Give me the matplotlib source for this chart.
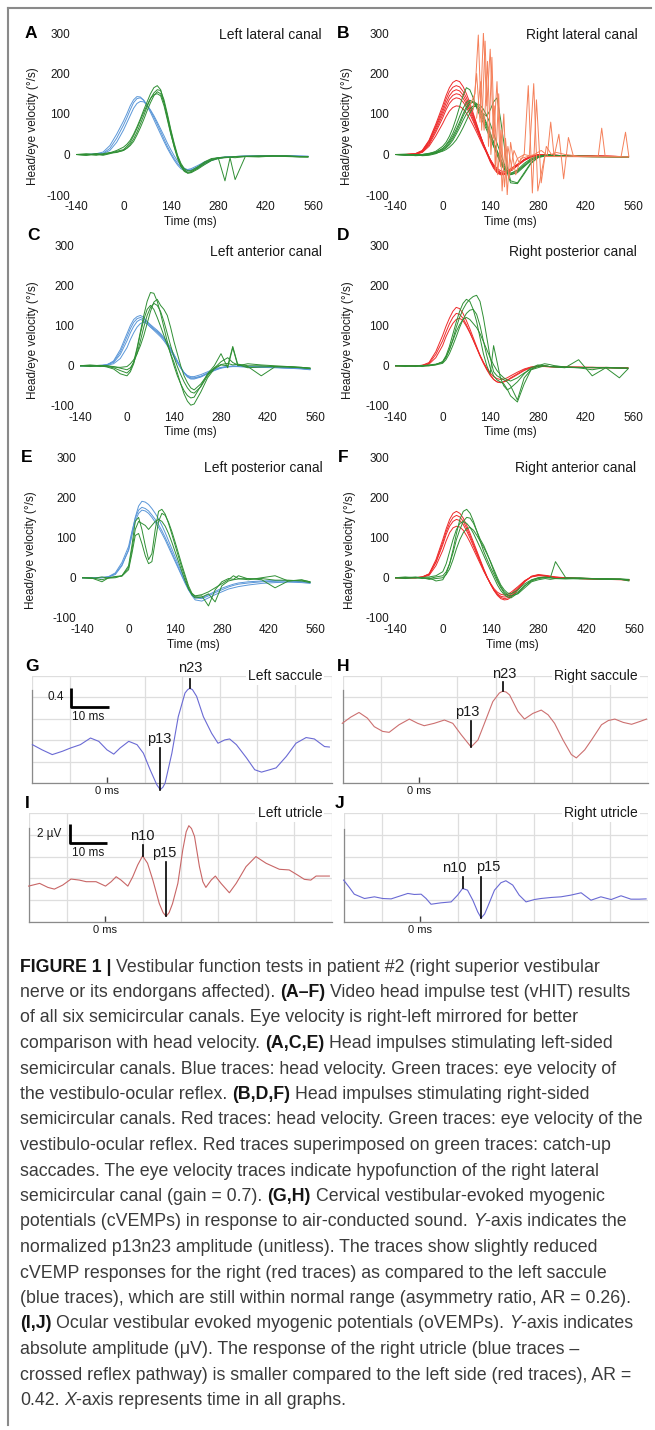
import re

import matplotlib
matplotlib.use("Agg")
import matplotlib.pyplot as plt
from matplotlib.lines import Line2D
import numpy as np

W, H = 655, 1430
plt.rcParams["font.family"] = ["Liberation Sans", "DejaVu Sans"]
plt.rcParams["axes.unicode_minus"] = False

# ---------------- vHIT data (ms, deg/s) ----------------
T_VHIT = [-140, -110, -80, -60, -40, -20,
          0, 10, 20, 30, 40, 50, 60, 70, 80, 90, 100, 110, 120, 130, 140, 150, 160, 170, 180, 190, 200,
          220, 240, 260, 280, 300,
          315, 330, 360,
          400, 440, 480, 520, 545]
TIME_TICKS = [-140, 0, 140, 280, 420, 560]
VEL_TICKS = [-100, 0, 100, 200, 300]

A_HEAD = [
    [0, 0, 1, 3, 15, 40, 72, 90, 110, 128, 138, 140, 134, 122, 108, 92, 75, 57, 38, 20, 4, -10, -22, -31, -36, -37, -35, -27, -18, -12, -8, -6, -5, -5, -4, -4, -3, -3, -4, -5],
    [0, 0, 2, 6, 22, 50, 82, 100, 120, 135, 143, 142, 134, 120, 104, 86, 68, 50, 32, 15, 0, -14, -26, -35, -40, -41, -38, -30, -21, -14, -9, -7, -6, -5, -4, -3, -3, -3, -4, -5],
    [0, 0, 0, 2, 10, 30, 60, 78, 96, 114, 126, 131, 130, 122, 110, 96, 80, 63, 46, 28, 12, -3, -16, -27, -34, -38, -38, -32, -24, -15, -10, -7, -6, -5, -4, -4, -3, -3, -4, -4],
]
A_EYE = [
    [0, -2, 2, 0, 4, 10, 18, 25, 35, 50, 68, 88, 110, 130, 150, 165, 170, 160, 128, 90, 52, 18, -10, -30, -42, -46, -44, -32, -20, -12, -8, -6, -7, -8, -5, -6, -4, -3, -5, -6],
    [0, 2, 0, -2, 2, 8, 12, 20, 30, 46, 64, 84, 104, 122, 138, 148, 150, 145, 120, 85, 50, 20, -5, -25, -38, -44, -42, -34, -22, -14, -9, -7, -6, -5, -4, -3, -3, -4, -5, -5],
    [0, 0, -2, 2, 5, 6, 10, 16, 25, 38, 55, 75, 96, 118, 138, 152, 160, 158, 135, 100, 62, 28, -2, -22, -35, -40, -40, -30, -18, -10, -8, -65, -8, -62, -5, -5, -4, -4, -6, -6],
    [0, -2, 2, 0, 3, 5, 10, 15, 22, 32, 48, 66, 86, 108, 128, 145, 155, 150, 128, 95, 58, 24, -6, -28, -40, -46, -45, -36, -25, -15, -10, -8, -7, -6, -5, -5, -4, -5, -6, -6],
]

B_HEAD = [
    [0, 0, 2, 10, 35, 75, 120, 145, 165, 178, 183, 180, 168, 150, 128, 102, 76, 50, 25, 2, -18, -34, -45, -50, -50, -46, -40, -26, -12, -4, 0, 0, -1, -2, -3, -4, -4, -5, -5, -6],
    [0, 0, 1, 8, 30, 66, 105, 127, 145, 156, 160, 157, 147, 132, 113, 92, 70, 48, 27, 7, -12, -28, -40, -47, -48, -45, -40, -28, -15, -6, -1, 0, -1, -2, -3, -3, -4, -4, -5, -5],
    [0, 0, 1, 6, 24, 55, 90, 110, 126, 136, 140, 138, 130, 117, 100, 82, 62, 42, 22, 4, -14, -28, -38, -44, -46, -44, -38, -26, -14, -6, -2, -1, -1, -2, -3, -4, -4, -5, -5, -6],
    [0, 0, 0, 5, 20, 46, 76, 93, 107, 116, 120, 119, 113, 102, 88, 72, 55, 37, 19, 3, -12, -25, -34, -40, -42, -40, -35, -24, -13, -6, -2, -1, -2, -2, -3, -3, -4, -4, -5, -5],
    [0, 0, 2, 9, 33, 70, 112, 136, 155, 166, 170, 167, 156, 140, 120, 97, 73, 49, 26, 5, -15, -31, -43, -48, -49, -46, -40, -27, -13, -5, -1, 0, -1, -2, -3, -4, -4, -5, -5, -6],
    [0, 0, 1, 7, 27, 60, 98, 118, 136, 146, 150, 148, 139, 125, 107, 87, 66, 45, 25, 6, -13, -28, -39, -45, -47, -44, -39, -27, -14, -6, -2, -1, -1, -2, -3, -3, -4, -4, -5, -5],
]
B_EYE = [
    [0, -2, 0, -2, 0, 5, 15, 22, 32, 45, 62, 80, 100, 118, 130, 128, 118, 102, 85, 66, 45, 22, 0, -20, -36, -45, -48, -38, -22, -10, -4, -2, -2, -3, -4, -4, -4, -5, -5, -6],
    [0, 0, -2, 0, 2, 8, 20, 30, 45, 65, 90, 118, 145, 165, 160, 140, 115, 95, 78, 60, 40, 20, 0, -18, -34, -44, -50, -42, -28, -15, -6, -3, -3, -4, -4, -5, -5, -5, -6, -6],
    [0, -2, 0, -3, -2, 2, 10, 16, 24, 35, 50, 66, 84, 100, 112, 120, 118, 110, 100, 95, 110, 130, 140, 90, 30, -30, -65, -70, -45, -20, -8, -4, -3, -4, -5, -5, -6, -5, -6, -7],
    [0, 0, -3, -2, 0, 3, 8, 12, 18, 26, 36, 50, 66, 84, 102, 116, 124, 122, 112, 96, 76, 52, 28, 4, -20, -45, -70, -72, -48, -22, -8, -2, 0, -2, -4, -4, -5, -6, -6, -7],
    [0, -1, -2, 0, 1, 4, 12, 18, 28, 40, 56, 74, 94, 112, 125, 130, 126, 114, 96, 76, 54, 30, 8, -14, -32, -44, -50, -45, -30, -15, -6, -3, -3, -3, -4, -5, -5, -5, -6, -6],
    [0, 1, -1, 0, 3, 6, 14, 24, 36, 52, 72, 94, 114, 128, 134, 130, 120, 106, 90, 72, 52, 30, 10, -10, -28, -40, -46, -40, -26, -12, -5, -2, -3, -4, -4, -4, -5, -6, -6, -6],
]
# catch-up saccades (right lateral canal)
B_SAC_T = [
    [80, 95, 105, 115, 125, 135, 145, 155, 165, 175, 185, 195, 210, 225, 240, 252, 264, 276, 290, 305, 320, 335, 360, 400, 440, 458, 468, 478, 525, 538, 548],
    [90, 100, 110, 120, 130, 140, 150, 160, 170, 180, 190, 200, 215, 230, 250, 270, 290, 308, 318, 328, 342, 356, 370, 385, 420, 545],
    [100, 112, 122, 132, 142, 152, 162, 172, 182, 192, 205, 220, 240, 255, 268, 280, 300, 545],
]
B_SAC_V = [
    [120, 150, 295, 60, 280, 20, 240, -40, 150, -90, 40, -60, 10, -20, 0, 170, -95, 135, -70, 20, 0, 5, 0, -4, -4, -3, 65, -4, -5, 55, -6],
    [110, 200, 80, 300, 120, 260, 40, 180, -30, 100, -100, 30, -50, -10, -5, 0, 10, -2, 80, -5, 50, -60, 42, -5, -5, -6],
    [90, 180, 60, 230, 0, 120, -50, 60, -80, 20, -40, -10, 0, -3, 175, -90, -5, -6],
]

C_HEAD = [
    [0, 0, 0, 2, 12, 40, 80, 100, 115, 122, 125, 120, 110, 102, 95, 88, 80, 70, 58, 44, 28, 12, -4, -18, -28, -33, -33, -28, -20, -12, -6, -3, -2, -2, -3, -4, -5, -6, -8, -10],
    [0, 0, 1, 3, 8, 28, 62, 82, 98, 110, 115, 112, 104, 96, 90, 84, 76, 66, 54, 40, 25, 10, -5, -18, -26, -30, -30, -26, -18, -10, -5, -2, -1, -1, -2, -3, -4, -5, -7, -9],
    [0, 0, 0, 1, 5, 18, 45, 65, 82, 96, 105, 108, 104, 96, 88, 80, 72, 62, 50, 37, 22, 8, -6, -17, -24, -27, -27, -22, -15, -8, -4, -2, -1, -1, -2, -3, -4, -5, -6, -8],
    [0, 0, 0, 2, 10, 34, 72, 92, 108, 117, 120, 116, 108, 100, 92, 85, 77, 67, 55, 42, 27, 11, -4, -17, -26, -31, -31, -27, -19, -11, -5, -2, -2, -2, -3, -3, -4, -6, -7, -9],
]
C_EYE = [
    [0, 2, 0, -2, -5, -12, -18, -10, 10, 45, 85, 125, 160, 182, 180, 160, 130, 95, 60, 28, 0, -25, -45, -62, -74, -80, -78, -50, -20, 0, 30, -5, 45, 0, 5, 2, 0, -2, -4, -6],
    [0, 0, -2, 0, -2, -6, -10, -5, 8, 30, 62, 96, 125, 145, 155, 150, 135, 110, 80, 50, 22, -2, -22, -40, -55, -65, -68, -52, -25, -5, 3, 6, 2, 4, 0, 0, -2, -3, -5, -6],
    [0, -2, 0, -3, -8, -20, -25, -15, 5, 40, 80, 115, 140, 150, 140, 120, 98, 75, 52, 30, 8, -18, -45, -70, -88, -98, -95, -65, -30, -8, 2, 0, 48, 3, -5, -3, -2, -3, -5, -7],
    [0, 0, 1, 0, -3, -4, -2, 5, 15, 30, 50, 75, 105, 135, 158, 165, 150, 140, 125, 95, 60, 30, 0, -25, -42, -55, -60, -45, -22, -6, 10, 20, 8, 2, -2, -25, -3, -2, -4, -6],
]

D_HEAD = [
    [0, 0, 0, 1, 8, 35, 75, 98, 118, 135, 145, 142, 130, 112, 92, 70, 48, 26, 8, -8, -22, -34, -40, -42, -40, -36, -32, -22, -12, -5, -2, -2, -3, -3, -4, -4, -5, -5, -6, -6],
    [0, 0, 0, 1, 6, 28, 62, 84, 104, 120, 130, 128, 118, 102, 84, 64, 44, 24, 6, -10, -24, -34, -40, -42, -40, -36, -30, -20, -10, -4, -1, -1, -2, -3, -3, -4, -4, -5, -5, -6],
    [0, 0, 0, 0, 4, 20, 50, 72, 90, 105, 115, 118, 112, 98, 82, 64, 45, 26, 9, -6, -18, -27, -32, -34, -33, -30, -25, -16, -8, -3, -1, -1, -2, -2, -3, -3, -4, -4, -5, -5],
]
D_EYE = [
    [0, 0, -2, 0, 2, 4, 8, 20, 40, 65, 95, 120, 140, 155, 165, 172, 175, 160, 120, 70, 20, -15, -25, -30, -35, -40, -50, -85, -30, -10, -5, 0, -2, -3, -5, 15, -25, -5, -30, -8],
    [0, -2, 0, 1, 0, 3, 10, 25, 48, 78, 108, 135, 155, 165, 160, 140, 110, 70, 30, 0, -20, 50, 10, -30, -50, -60, -55, -40, -20, -5, 2, 0, -2, -1, -3, -4, -5, -5, -6, -6],
    [0, 0, 0, -2, 0, 2, 6, 15, 30, 50, 72, 95, 115, 130, 138, 140, 128, 100, 62, 25, -5, -25, -35, -40, -45, -58, -75, -90, -45, -10, 0, 5, 3, 0, -3, -5, -10, -4, -5, -6],
    [0, 0, -1, 0, 1, 3, 10, 22, 40, 62, 85, 102, 115, 120, 115, 105, 95, 80, 60, 40, 20, 2, -12, -22, -30, -35, -38, -30, -18, -8, -2, 0, -2, -3, -4, -5, -4, -5, -6, -6],
]

E_HEAD = [
    [0, 0, 0, 2, 8, 30, 70, 110, 150, 178, 190, 188, 182, 172, 160, 146, 130, 112, 92, 72, 52, 32, 12, -8, -28, -44, -55, -58, -50, -42, -35, -28, -25, -22, -18, -14, -12, -11, -12, -14],
    [0, 0, 0, 3, 12, 38, 78, 115, 148, 168, 175, 172, 166, 156, 145, 132, 117, 100, 82, 63, 44, 25, 6, -12, -30, -43, -50, -52, -45, -37, -30, -23, -19, -16, -13, -10, -9, -8, -10, -12],
    [0, 0, 1, 2, 10, 32, 68, 105, 140, 160, 168, 166, 160, 150, 138, 125, 110, 94, 76, 58, 40, 22, 4, -14, -30, -42, -48, -50, -42, -34, -26, -20, -16, -13, -10, -8, -7, -8, -10, -12],
]
E_EYE = [
    [0, -2, 2, -1, 0, 5, 30, 80, 140, 150, 120, 80, 45, 60, 120, 165, 170, 158, 135, 108, 80, 52, 25, 0, -25, -42, -50, -48, -40, -60, -20, -8, -5, -3, -2, -5, -25, -8, -5, -10],
    [0, 0, -5, 0, 2, 4, 20, 60, 105, 110, 85, 55, 35, 40, 90, 140, 160, 155, 138, 115, 88, 60, 32, 6, -20, -38, -46, -45, -70, -30, -10, -2, -4, 5, -3, -2, -6, -6, -8, -12],
    [0, -1, -10, 0, 3, 5, 25, 70, 120, 140, 135, 130, 120, 130, 140, 145, 140, 128, 110, 88, 64, 40, 16, -8, -28, -40, -45, -42, -35, -25, -15, -5, 5, -2, -5, 0, 5, -8, -6, -10],
]

F_HEAD = [
    [0, 0, 0, 2, 10, 45, 95, 122, 145, 160, 165, 160, 148, 130, 110, 88, 66, 44, 22, 2, -16, -32, -44, -52, -55, -54, -48, -30, -10, 4, 8, 6, 4, 2, 0, -2, -3, -4, -5, -6],
    [0, 0, 0, 2, 8, 38, 82, 108, 128, 140, 145, 142, 132, 116, 98, 78, 58, 38, 18, 0, -16, -30, -40, -46, -48, -46, -40, -25, -8, 3, 6, 5, 3, 1, 0, -2, -3, -3, -4, -5],
    [0, 0, 0, 1, 6, 30, 68, 92, 112, 124, 128, 126, 118, 104, 88, 70, 52, 34, 16, 0, -14, -27, -36, -41, -43, -41, -36, -22, -7, 2, 5, 4, 2, 1, 0, -1, -2, -3, -4, -5],
    [0, 0, 0, 2, 9, 40, 88, 115, 136, 150, 155, 151, 140, 123, 104, 83, 62, 41, 20, 1, -16, -31, -42, -49, -52, -50, -44, -28, -9, 3, 7, 5, 3, 1, 0, -2, -3, -4, -4, -6],
]
F_EYE = [
    [0, 2, 0, -2, 0, -8, -5, 10, 35, 70, 110, 145, 165, 170, 160, 140, 115, 90, 65, 45, 25, 8, -10, -25, -38, -45, -46, -35, -20, -8, -2, 0, 0, 40, 0, 0, -2, -3, -4, -6],
    [0, -2, 0, 0, -2, 2, 5, 15, 35, 62, 95, 120, 140, 150, 148, 135, 115, 95, 80, 60, 38, 15, -5, -22, -35, -42, -45, -40, -25, -10, -5, -2, -4, -2, -3, -1, -3, -4, -4, -8],
    [0, 0, 2, 0, -4, -2, 0, 8, 22, 45, 72, 95, 112, 122, 125, 118, 105, 90, 75, 58, 40, 20, 0, -18, -30, -38, -40, -30, -15, -5, 0, 2, 0, -2, -2, -3, -2, -4, -3, -5],
    [0, 0, 0, 1, 2, 5, 15, 35, 65, 95, 120, 135, 140, 135, 125, 110, 92, 74, 55, 36, 18, 0, -18, -32, -42, -48, -50, -38, -20, -6, 0, 1, 0, -2, -1, -2, -3, -2, -3, -4],
]

# ---------------- VEMP data (ms, amplitude) ----------------
G_T = [-19.9, -17.3, -14.6, -11.9, -9.7, -7.1, -4.4, -2.2, 0.0, 1.8, 3.5, 5.8, 8.0, 9.7, 11.5, 13.3, 14.2, 14.9, 15.5, 17.3, 19.0,
       20.8, 21.5, 22.1, 22.8, 23.9, 25.7, 27.9, 29.6, 31.4, 32.7, 34.5, 37.2, 39.4, 41.2, 43.4, 45.1, 47.8, 50.4, 53.1, 55.3, 58.0, 59.3]
G_V = [0.81, 0.70, 0.60, 0.67, 0.74, 0.81, 0.95, 0.88, 0.70, 0.61, 0.74, 0.88, 0.81, 0.63, 0.28, -0.04, -0.14, -0.09, 0.0, 0.63, 1.40,
       1.90, 1.97, 2.00, 1.97, 1.83, 1.40, 1.05, 0.84, 0.91, 0.93, 0.81, 0.53, 0.28, 0.23, 0.28, 0.32, 0.56, 0.84, 0.96, 0.93, 0.77, 0.76]
H_T = [-20.2, -18.0, -15.8, -13.6, -11.8, -9.6, -7.9, -5.3, -2.6, -0.4, 1.3, 3.9, 6.6, 8.8, 11.0, 13.6, 15.4, 17.1, 19.3, 21.0, 21.9,
       22.8, 23.7, 25.9, 27.6, 29.8, 32.0, 33.8, 35.5, 37.7, 39.9, 41.2, 43.4, 45.2, 47.8, 49.6, 51.3, 53.5, 55.7, 57.9, 59.6]
H_V = [1.26, 1.39, 1.49, 1.37, 1.19, 1.09, 1.07, 1.23, 1.35, 1.26, 1.21, 1.26, 1.33, 1.26, 1.02, 0.76, 0.91, 1.26, 1.72, 1.90, 1.94,
       1.92, 1.86, 1.51, 1.35, 1.47, 1.54, 1.44, 1.26, 0.91, 0.60, 0.53, 0.70, 0.91, 1.23, 1.32, 1.35, 1.28, 1.24, 1.30, 1.35]
I_T = [-20.1, -17.2, -15.0, -13.3, -11.1, -8.9, -6.7, -4.9, -2.3, 0.2, 1.7, 3.0, 4.3, 6.1, 7.4, 8.7, 10.0, 11.3, 12.7, 14.4,
       15.4, 16.2, 17.0, 17.9, 19.3, 20.6, 21.5, 22.2, 22.9, 23.7, 25.0, 25.9, 26.7, 28.1, 29.2, 30.7, 32.9, 34.7, 37.3, 39.9,
       42.6, 46.1, 48.7, 50.9, 52.7, 54.4, 55.8, 59.3]
I_V = [3.82, 4.11, 3.68, 3.50, 3.93, 4.57, 4.46, 4.29, 4.29, 3.82, 4.29, 4.82, 4.46, 3.82, 4.82, 6.07, 7.04, 6.25, 4.46, 1.96,
       1.00, 0.61, 1.00, 1.96, 4.11, 7.68, 9.60, 10.25, 9.95, 9.11, 5.89, 4.29, 3.68, 4.46, 4.89, 4.11, 3.11, 4.11, 5.89, 6.96,
       6.25, 5.61, 5.54, 5.00, 4.54, 4.46, 4.89, 4.89]
J_T = [-20.1, -18.6, -17.3, -14.6, -12.0, -9.8, -7.6, -5.4, -3.2, -1.5, 0.3, 1.6, 2.9, 5.5, 8.2, 9.9, 11.2, 12.5, 13.9, 15.2,
       16.1, 17.0, 17.8, 19.6, 21.3, 22.6, 24.4, 26.1, 27.9, 30.1, 31.8, 34.5, 37.1, 39.7, 42.4, 45.0, 47.6, 50.3, 52.9, 55.5,
       57.7, 59.5]
J_V = [4.46, 3.68, 2.96, 2.50, 2.68, 2.50, 2.46, 2.75, 3.04, 2.93, 2.96, 2.50, 1.89, 2.04, 2.14, 2.86, 3.57, 3.39, 2.32, 1.07,
       0.43, 0.85, 1.61, 3.39, 4.18, 4.39, 3.93, 2.86, 2.14, 2.39, 2.50, 2.61, 2.68, 2.86, 3.11, 2.32, 2.68, 2.39, 2.79, 2.43,
       2.43, 2.46]

# peak markers: label, latency, trace value, line top, label x, label y
G_MARKS = [("n23", 22.1, 2.00, 2.19, 22.3, 2.42), ("p13", 14.2, -0.14, 0.74, 14.0, 0.93)]
H_MARKS = [("n23", 21.9, 1.94, 2.13, 22.2, 2.30), ("p13", 13.6, 0.76, 1.30, 12.5, 1.50)]
I_MARKS = [("n10", 10.0, 7.04, 8.20, 10.0, 9.20), ("p15", 16.2, 0.61, 6.43, 15.7, 7.32)]
J_MARKS = [("n10", 11.2, 3.57, 4.82, 9.0, 5.71), ("p15", 16.1, 0.43, 4.82, 18.0, 5.90)]

CAPTION = [
    "**FIGURE 1 |** Vestibular function tests in patient #2 (right superior vestibular",
    "nerve or its endorgans affected). **(A–F)** Video head impulse test (vHIT) results",
    "of all six semicircular canals. Eye velocity is right-left mirrored for better",
    "comparison with head velocity. **(A,C,E)** Head impulses stimulating left-sided",
    "semicircular canals. Blue traces: head velocity. Green traces: eye velocity of",
    "the vestibulo-ocular reflex. **(B,D,F)** Head impulses stimulating right-sided",
    "semicircular canals. Red traces: head velocity. Green traces: eye velocity of the",
    "vestibulo-ocular reflex. Red traces superimposed on green traces: catch-up",
    "saccades. The eye velocity traces indicate hypofunction of the right lateral",
    "semicircular canal (gain = 0.7). **(G,H)** Cervical vestibular-evoked myogenic",
    "potentials (cVEMPs) in response to air-conducted sound. *Y*-axis indicates the",
    "normalized p13n23 amplitude (unitless). The traces show slightly reduced",
    "cVEMP responses for the right (red traces) as compared to the left saccule",
    "(blue traces), which are still within normal range (asymmetry ratio, AR = 0.26).",
    "**(I,J)** Ocular vestibular evoked myogenic potentials (oVEMPs). *Y*-axis indicates",
    "absolute amplitude (μV). The response of the right utricle (blue traces –",
    "crossed reflex pathway) is smaller compared to the left side (red traces), AR =",
    "0.42. *X*-axis represents time in all graphs.",
]

BLUE = "#5b97d8"
RED = "#ee2a2a"
GREEN = "#2f8f34"
ORANGE = "#f5805a"
TXT = "#1a1a1a"

for group in (A_HEAD, A_EYE, B_HEAD, B_EYE, C_HEAD, C_EYE, D_HEAD, D_EYE, E_HEAD, E_EYE, F_HEAD, F_EYE):
    for tr in group:
        assert len(tr) == len(T_VHIT), len(tr)


def box(x0, y0, x1, y1):
    return [x0 / W, 1 - y1 / H, (x1 - x0) / W, (y1 - y0) / H]


def ftext(fig, x, y, s, **kw):
    return fig.text(x / W, 1 - y / H, s, **kw)


def vhit_panel(fig, rect, letter, letter_xy, title, title_xy, ylab_xy, xlab_xy, head, eye, head_color, sac=None):
    ax = fig.add_axes(box(*rect))
    ax.patch.set_alpha(0)
    for tr in head:
        ax.plot(T_VHIT, tr, color=head_color, lw=0.7)
    for tr in eye:
        ax.plot(T_VHIT, tr, color=GREEN, lw=0.7)
    if sac:
        for t, v in zip(*sac):
            ax.plot(t, v, color=ORANGE, lw=0.7)
    ax.set_xlim(-140, 560)
    ax.set_ylim(-100, 300)
    ax.set_xticks(TIME_TICKS)
    ax.set_yticks(VEL_TICKS)
    for s in ax.spines.values():
        s.set_visible(False)
    ax.tick_params(length=0, labelsize=8.5, labelcolor=TXT)
    ax.tick_params(axis="x", pad=4.5)
    ax.tick_params(axis="y", pad=4.3)
    ftext(fig, *letter_xy, letter, fontsize=12.5, fontweight="bold", ha="center", va="center", color="k")
    ftext(fig, *title_xy, title, fontsize=10, ha="right", va="center", color=TXT)
    ftext(fig, *ylab_xy, "Head/eye velocity (°/s)", fontsize=8.5, rotation=90, ha="center", va="center", color=TXT)
    ftext(fig, *xlab_xy, "Time (ms)", fontsize=8.5, ha="center", va="center", color=TXT)
    return ax


def vemp_panel(fig, rect, letter, letter_xy, title, t, v, color, top, spine_top, marks):
    ax = fig.add_axes(box(*rect))
    ax.set_xlim(-20, 60)
    ax.set_ylim(0, top)
    ax.set_xticks(np.arange(-20, 61, 10), minor=True)
    ax.set_yticks(np.linspace(0, top, 6), minor=True)
    ax.set_yticks([])
    ax.set_xticks([0])
    ax.set_xticklabels(["0 ms"])
    ax.grid(which="minor", color="#dedede", lw=0.9)
    ax.set_axisbelow(True)
    ax.tick_params(axis="x", which="major", direction="in", length=4, width=1, color="#444444",
                   labelsize=8, pad=2.5, labelcolor=TXT)
    ax.tick_params(which="minor", length=0)
    for side in ("top", "right"):
        ax.spines[side].set_visible(False)
    ax.spines["left"].set_bounds(0, spine_top)
    for side in ("left", "bottom"):
        ax.spines[side].set_color("#8a8a8a")
        ax.spines[side].set_linewidth(0.9)
    ax.plot(t, v, color=color, lw=0.8, clip_on=False, zorder=3)
    for name, lat, val, ltop, tx, ty in marks:
        ax.plot([lat, lat], [val, ltop], color="k", lw=1.2, clip_on=False, zorder=4)
        ax.text(tx, ty, name, fontsize=10.5, ha="center", va="center", color=TXT, zorder=5)
    ax.text(57.4, top, title, fontsize=10, ha="right", va="center", color=TXT, zorder=6,
            bbox=dict(facecolor="white", edgecolor="none", pad=1.5))
    ftext(fig, *letter_xy, letter, fontsize=12.5, fontweight="bold", ha="center", va="center", color="k")
    return ax


def scale_bar(ax, x0, y0, dy, ylabel, ylab_xy, xlab_xy):
    ax.plot([x0, x0, x0 + 10], [y0 + dy, y0, y0], color="k", lw=2, solid_capstyle="butt", zorder=5)
    ax.text(*ylab_xy, ylabel, fontsize=8.5, ha="center", va="center", color=TXT)
    ax.text(*xlab_xy, "10 ms", fontsize=8.5, ha="center", va="center", color=TXT)


def draw_caption(fig):
    renderer = fig.canvas.get_renderer()
    family = "Liberation Sans"
    probe = fig.text(0, 0, "", fontsize=10, family=family)
    widest = 0
    for line in CAPTION:
        probe.set_text(line.replace("*", ""))
        widest = max(widest, probe.get_window_extent(renderer).width)
    size = 10 * 626 / widest
    probe.set_text("a a")
    w1 = probe.get_window_extent(renderer).width
    probe.set_text("aa")
    w2 = probe.get_window_extent(renderer).width
    space = (w1 - w2) * size / 10
    probe.remove()

    y = 971.5
    for line in CAPTION:
        x = 20
        for piece in re.split(r"(\*\*.+?\*\*|\*.+?\*)", line):
            if not piece:
                continue
            weight, style, color = "normal", "normal", "#3b3b3b"
            if piece.startswith("**"):
                piece, weight, color = piece[2:-2], "bold", "#151515"
            elif piece.startswith("*"):
                piece, style = piece[1:-1], "italic"
            x += (len(piece) - len(piece.lstrip(" "))) * space
            core = piece.strip(" ")
            if core:
                t = ftext(fig, x, y, core, fontsize=size, fontweight=weight, fontstyle=style,
                          family=family, color=color, ha="left", va="baseline")
                x += t.get_window_extent(renderer).width
            x += (len(piece) - len(piece.rstrip(" "))) * space
        y += 25.5


def main():
    fig = plt.figure(figsize=(W / 100, H / 100), dpi=100)
    fig.patch.set_facecolor("white")

    vhit_panel(fig, (76, 33, 313, 195), "A", (31, 33), "Left lateral canal", (322, 35), (33, 126), (190, 222),
               A_HEAD, A_EYE, BLUE)
    vhit_panel(fig, (395, 33, 633, 195), "B", (343, 33), "Right lateral canal", (638, 35), (347, 126), (510, 222),
               B_HEAD, B_EYE, RED, sac=(B_SAC_T, B_SAC_V))
    vhit_panel(fig, (80, 245, 315, 406), "C", (33, 235), "Left anterior canal", (322, 252), (33, 340), (190, 432),
               C_HEAD, C_EYE, BLUE)
    vhit_panel(fig, (395, 245, 633, 406), "D", (343, 235), "Right posterior canal", (637, 252), (348, 340), (510, 432),
               D_HEAD, D_EYE, RED)
    vhit_panel(fig, (82, 457, 315, 618), "E", (27, 458), "Left posterior canal", (323, 468), (31, 550), (193, 645),
               E_HEAD, E_EYE, BLUE)
    vhit_panel(fig, (395, 457, 634, 618), "F", (343, 458), "Right anterior canal", (636, 468), (350, 550), (512, 645),
               F_HEAD, F_EYE, RED)

    ax_g = vemp_panel(fig, (32, 676, 332, 783), "G", (32, 666), "Left saccule", G_T, G_V, "#6a6ad4", 2.26, 1.96, G_MARKS)
    scale_bar(ax_g, -9.6, 1.61, 0.4, "0.4", (-13.7, 1.81), (-4.9, 1.40))
    vemp_panel(fig, (343, 676, 648, 783), "H", (343, 666), "Right saccule", H_T, H_V, "#cc7070", 2.26, 1.96, H_MARKS)
    ax_i = vemp_panel(fig, (29, 813, 332, 922), "I", (27, 803), "Left utricle", I_T, I_V, "#c86666", 11.6, 10.0, I_MARKS)
    scale_bar(ax_i, -9.3, 8.46, 2.0, "2 µV", (-14.6, 9.39), (-4.5, 7.32))
    vemp_panel(fig, (344, 813, 648, 922), "J", (340, 803), "Right utricle", J_T, J_V, "#6a6ad4", 11.6, 9.9, J_MARKS)

    # frame lines
    fig.add_artist(Line2D([8 / W, 8 / W], [1 - 8 / H, 1 - 1425 / H], color="#8a8a8a", lw=1.5))
    fig.add_artist(Line2D([8 / W, 651 / W], [1 - 8 / H, 1 - 8 / H], color="#8a8a8a", lw=1.5))

    draw_caption(fig)
    fig.savefig("out.png", dpi=100)
    plt.close(fig)


if __name__ == "__main__":
    main()
